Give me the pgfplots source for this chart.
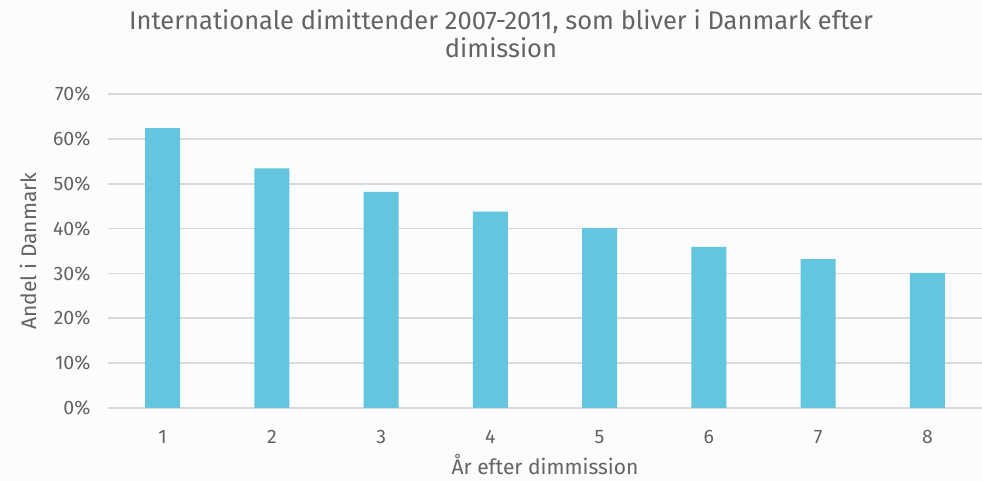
\documentclass[border=0pt]{standalone}
\usepackage{pgfplots}
\pgfplotsset{compat=1.18}
\usepackage{fontspec}
\setmainfont{Fira Sans}
\definecolor{barc}{HTML}{62C6DE}
\definecolor{txt}{HTML}{636363}
\definecolor{grd}{HTML}{D9DADC}
\definecolor{bg}{HTML}{FAFCFE}
\begin{document}
\begin{tikzpicture}[x=1pt,y=1pt]
\fill[bg] (0,0) rectangle (982,481);
\useasboundingbox (0,0) rectangle (982,481);
\node[txt,font=\fontsize{25.5}{28}\selectfont,anchor=base] at (501,451) {Internationale dimittender 2007-2011, som bliver i Danmark efter};
\node[txt,font=\fontsize{25.5}{28}\selectfont,anchor=base] at (501,423) {dimission};
\begin{axis}[
  at={(108pt,73pt)}, anchor=south west,
  scale only axis, width=874pt, height=314pt,
  xmin=0.5, xmax=8.5, ymin=0, ymax=70,
  axis line style={draw=none},
  tick style={draw=none},
  ytick={0,10,...,70},
  yticklabel={\pgfmathprintnumber{\tick}\%},
  xtick={1,...,8},
  ymajorgrids, grid style={grd,line width=1.6pt},
  ticklabel style={txt,font=\fontsize{19.5}{22}\selectfont},
  /pgf/number format/assume math mode=true,
  xticklabel style={anchor=base,yshift=-36pt},
  yticklabel style={xshift=-14pt},
  xlabel={År efter dimmission},
  ylabel={Andel i Danmark},
  label style={txt,font=\fontsize{21}{24}\selectfont},
  xlabel style={at={(axis description cs:0.5,0)},anchor=base,yshift=-67pt},
  ylabel style={at={(axis description cs:-0.0915,0.5)},anchor=center},
  clip=false,
]
\addplot[ybar, bar width=35pt, fill=barc, draw=none] coordinates {
(1,62.4) (2,53.4) (3,48.2) (4,43.8) (5,40.1) (6,35.9) (7,33.2) (8,30.1)
};
\end{axis}
\end{tikzpicture}
\end{document}
